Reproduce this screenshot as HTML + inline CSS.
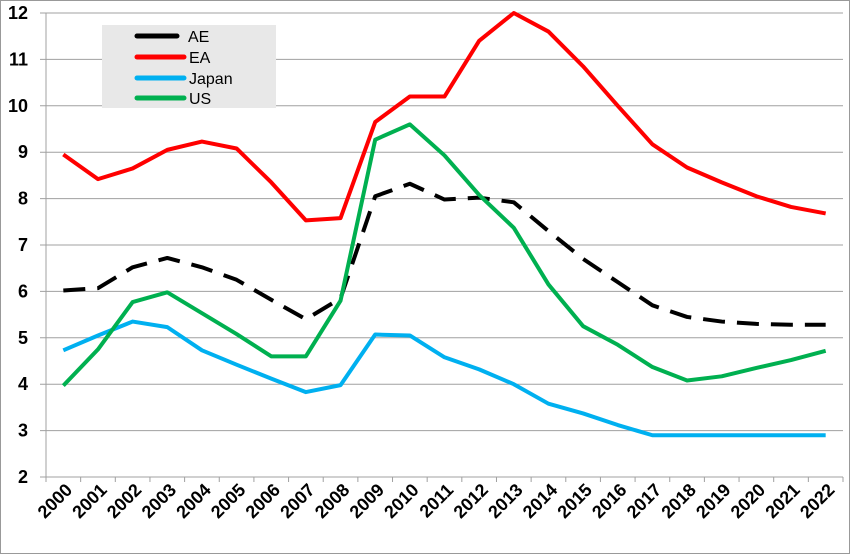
<!DOCTYPE html>
<html><head><meta charset="utf-8"><style>
body{margin:0;background:#fff}
svg text{font-family:"Liberation Sans",Arial,sans-serif;font-weight:bold;fill:#000}
</style></head><body>
<svg id="chart" width="850" height="554" xmlns="http://www.w3.org/2000/svg">
<rect x="0.5" y="0.5" width="849" height="553" fill="#fff" stroke="#999"/>
<g id="grid"></g><g id="series"></g><g id="axes"></g>
<g>
<rect x="102" y="25" width="174" height="83" fill="#e8e8e8"/>
<line x1="137" y1="36" x2="177" y2="36" stroke="#000" stroke-width="5" stroke-linecap="round"/>
<text x="188" y="42" font-size="16" style="font-weight:normal">AE</text>
<line x1="137" y1="57" x2="184" y2="57" stroke="#ff0000" stroke-width="5" stroke-linecap="round"/>
<text x="189" y="63" font-size="16" style="font-weight:normal">EA</text>
<line x1="137" y1="78" x2="184" y2="78" stroke="#00b0f0" stroke-width="5" stroke-linecap="round"/>
<text x="189" y="84" font-size="16" style="font-weight:normal">Japan</text>
<line x1="137" y1="98" x2="184" y2="98" stroke="#00b050" stroke-width="5" stroke-linecap="round"/>
<text x="189" y="104" font-size="16" style="font-weight:normal">US</text>
</g>
</svg>
<script>
const years=["2000","2001","2002","2003","2004","2005","2006","2007","2008","2009","2010","2011","2012","2013","2014","2015","2016","2017","2018","2019","2020","2021","2022"];
const yTicks=[2,3,4,5,6,7,8,9,10,11,12];
const aeValues=[6.02,6.07,6.52,6.72,6.52,6.25,5.82,5.40,5.85,8.05,8.32,7.98,8.02,7.92,7.30,6.70,6.20,5.70,5.45,5.35,5.30,5.28,5.28];
const eaValues=[8.95,8.42,8.65,9.05,9.23,9.08,8.35,7.53,7.58,9.65,10.2,10.2,11.4,12.0,11.6,10.85,10.0,9.17,8.67,8.35,8.05,7.82,7.68];
const japanValues=[4.73,5.05,5.35,5.23,4.73,4.42,4.12,3.83,3.98,5.07,5.05,4.58,4.32,4.0,3.58,3.37,3.12,2.9,2.9,2.9,2.9,2.9,2.9];
const usValues=[3.97,4.75,5.77,5.98,5.53,5.08,4.6,4.6,5.8,9.27,9.6,8.93,8.08,7.37,6.15,5.25,4.85,4.37,4.08,4.17,4.35,4.52,4.72];
const NS="http://www.w3.org/2000/svg";
const L=46,R=843,T=13,B=477;
const step=(R-L)/years.length;
const x=i=>L+step*(i+0.5);
const y=v=>B-(v-2)/10*(B-T);
function mk(tag,attrs,parent){const e=document.createElementNS(NS,tag);for(const k in attrs)e.setAttribute(k,attrs[k]);parent.appendChild(e);return e;}
const grid=document.getElementById('grid'),axes=document.getElementById('axes'),ser=document.getElementById('series');
yTicks.forEach(v=>{
 const g=mk('line',{x1:L-6,x2:R,y1:y(v),y2:y(v),stroke:'#a0a0a0','stroke-width':1},grid);
 
 
 const t=mk('text',{x:28,y:y(v)+6,'text-anchor':'end','font-size':18},axes);
 t.textContent=v;
 
 
});
mk('line',{x1:L,x2:L,y1:T,y2:B,stroke:'#a0a0a0'},axes);
for(let i=0;i<=years.length;i++){mk('line',{x1:L+step*i,x2:L+step*i,y1:B,y2:B+5,stroke:'#a0a0a0'},axes);}
years.forEach((yr,i)=>{
 const cx=x(i)+10,cy=B+14;
 const t=mk('text',{x:cx,y:cy,'text-anchor':'end','font-size':18,transform:`rotate(-45 ${cx} ${cy})`},axes);
 t.textContent=yr;
 
 
});
function line(vals,color,name,dash){
 const p=mk('polyline',{points:vals.map((v,i)=>x(i)+','+y(v)).join(' '),fill:'none',stroke:color,'stroke-width':4,'stroke-linejoin':'round'},ser);
 if(dash)p.setAttribute('stroke-dasharray',dash);
 
 
}
line(aeValues,'#000','series-ae','22 12');
line(eaValues,'#ff0000','series-ea');
line(japanValues,'#00b0f0','series-japan');
line(usValues,'#00b050','series-us');
</script>
</body></html>
